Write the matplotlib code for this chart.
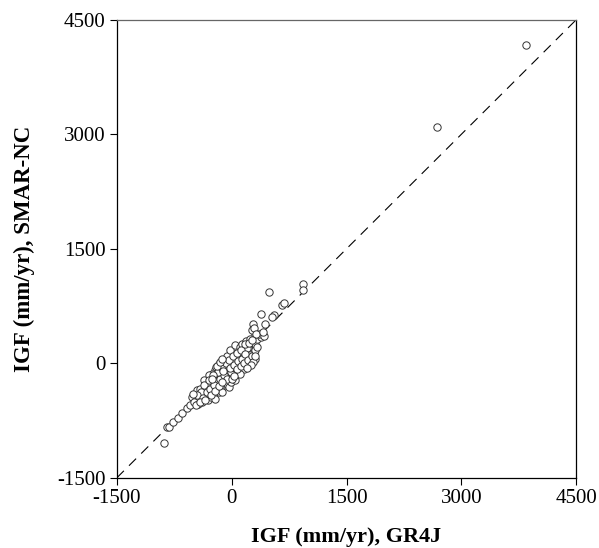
import numpy as np
import matplotlib
matplotlib.use("Agg")
from matplotlib import pyplot as plt

plt.rcParams['font.family'] = ['Liberation Serif', 'DejaVu Serif']
plt.rcParams['axes.unicode_minus'] = False

# IGF (mm/yr) estimated per catchment: GR4J (x) vs SMAR-NC (y)
gr4j = [
    -880, -850, -815, -765, -705, -650, -580, -545,
    -515, -481, -463, -429, -450, -407, -364, -385, -333, -307, -494, -437,
    -342, -299, -277, -255, -355, -312, -234, -212, -169, -264, -212, -364,
    -398, -463,
    -234, -190, -169, -125, -104, -147, -82, -61, -39, -17, 4, 26, 48, 91,
    113, -104, -61, -147, -125, -190, -221, -255, -277, -299, -203, -169,
    -104, -39, 4, 48, 69, 113, 134, 177, 156, 91, 48, 13, -61, -17, 48, 113,
    177, 221, 243, 199, 286, 307, 243, 199, 156, 113, 134, 186, 243, 273,
    299, 329, 385, 351, 307, 264, 273, 295, 321, 416, 407, 438, 381, 555,
    524, 494, 663, 684, 927, 935, -82, -39, -4, 48, 4,
    -250, -200, -150, -100, -50, 0, 50, 100, 150, 200, -300, -350, -400,
    -450, -380, -320, -280, -230, -180, -130, -80, -30, 20, 70, 120, 170,
    230, 260, -60, -10, 40, 90, 140, 190, 240, -110, -20, 30, 80, 130, 180,
    -500, -420, -350, -270, -220, -170, -120, 70, 120, 160, 210, 260, 300,
    330, -190, -150, -120, 280, 250, 310, 200, -250, -300, 0, 30, -260,
    2680, 3840,
]
smar = [
    -1050, -835, -840, -775, -710, -650, -580, -550,
    -441, -406, -485, -463, -354, -341, -376, -507, -432, -485, -507, -537,
    -332, -389, -288, -354, -223, -266, -245, -310, -376, -441, -463, -288,
    -419, -550,
    -179, -135, -201, -245, -157, -92, -48, -113, -179, -70, -26, -113, -170,
    -92, -26, -288, -266, -310, -376, -266, -92, -135, -179, -157, -48, -4,
    17, 74, 39, 17, 79, 61, 17, 39, 127, 148, 170, 127, 92, 170, 236, 214,
    192, 223, 170, 105, 148, 61, 39, -48, -70, -135, 258, 292, 323, 279,
    249, 323, 345, 389, 389, 432, 520, 462, 380, 354, 410, 520, 651, 638,
    607, 934, 769, 790, 1035, 965, -135, -310, -245, -223, -157,
    -300, -250, -200, -150, -50, 0, 50, 100, 150, 200, -350, -400, -380,
    -420, -460, -380, -330, -280, -120, -60, 0, 40, 90, 140, 180, 250,
    270, 300, -200, -120, -60, -10, 20, 80, 110, -100, -60, -20, 30, 60, 120,
    -400, -500, -480, -420, -360, -300, -250, -80, -40, 0, 40, 90, 170,
    220, -30, 20, 60, 20, -20, 90, -60, -150, -220, -200, -160, -200,
    3090, 4170,
]

ticks = [-1500, 0, 1500, 3000, 4500]
lim = (-1500, 4500)

fig = plt.figure(figsize=(5.99, 5.48), dpi=100)
ax = fig.add_axes([0.195, 0.128, 0.767, 0.836])

ax.plot(lim, lim, color='black', lw=0.8, linestyle=(0, (9, 6.5)), zorder=1)
ax.scatter(gr4j, smar, s=28, facecolors='white', edgecolors='#333333',
           linewidths=0.7, zorder=2)

ax.set_xlim(lim)
ax.set_ylim(lim)
ax.set_xticks(ticks)
ax.set_yticks(ticks)
ax.tick_params(direction='out', length=5, width=0.8, labelsize=15, pad=3)
for s in ['left', 'bottom', 'right']:
    ax.spines[s].set_linewidth(0.9)
    ax.spines[s].set_color('black')
ax.spines['top'].set_color('#666666')
ax.spines['top'].set_linewidth(0.9)

ax.set_xlabel('IGF (mm/yr), GR4J', fontsize=16, fontweight='bold', labelpad=14)
ax.set_ylabel('IGF (mm/yr), SMAR-NC', fontsize=16.5, fontweight='bold', labelpad=16)

fig.savefig('out.png', dpi=100)
